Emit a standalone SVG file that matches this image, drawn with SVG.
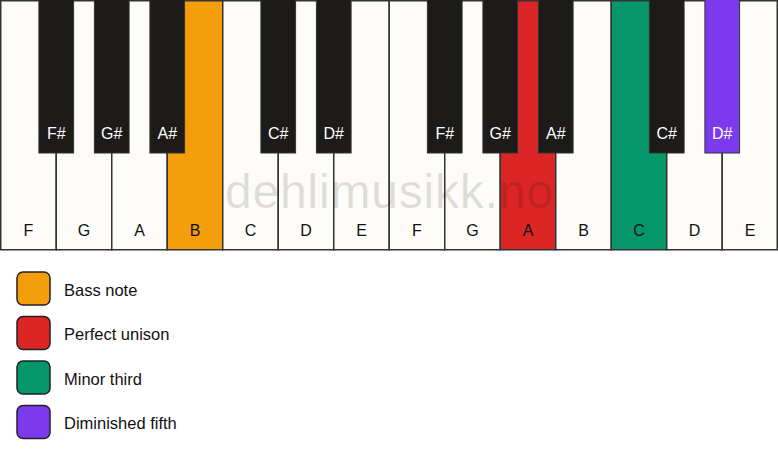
<svg xmlns="http://www.w3.org/2000/svg" width="778" height="461" viewBox="0 0 778 461">
<style>
.w{fill:#fdfcf8;stroke:#333;stroke-width:1.5}
.b{fill:#1c1b1a;stroke:#333;stroke-width:1}
.wl{font-family:"Liberation Sans",Arial,sans-serif;font-size:16px;fill:#111;text-anchor:middle}
.bl{font-family:"Liberation Sans",Arial,sans-serif;font-size:16px;fill:#fff;text-anchor:middle}
.lg{stroke:#222;stroke-width:1.5}
.lt{font-family:"Liberation Sans",Arial,sans-serif;font-size:16.5px;fill:#111}
.wm{font-family:"Liberation Sans",Arial,sans-serif;font-size:48px;fill:#000;fill-opacity:0.12;text-anchor:middle}
</style>
<rect x="0" y="0" width="778" height="461" fill="#ffffff"/>
<g id="white-keys">
<g id="wk-F1"><rect class="w" x="0.75" y="0.75" width="55.5" height="249"/><text class="wl" x="28.5" y="235.5">F</text></g>
<g id="wk-G1"><rect class="w" x="56.25" y="0.75" width="55.5" height="249"/><text class="wl" x="84" y="235.5">G</text></g>
<g id="wk-A1"><rect class="w" x="111.75" y="0.75" width="55.5" height="249"/><text class="wl" x="139.5" y="235.5">A</text></g>
<g id="wk-B1"><rect class="w" x="167.25" y="0.75" width="55.5" height="249" style="fill:#f59e0b"/><text class="wl" x="195" y="235.5">B</text></g>
<g id="wk-C1"><rect class="w" x="222.75" y="0.75" width="55.5" height="249"/><text class="wl" x="250.5" y="235.5">C</text></g>
<g id="wk-D1"><rect class="w" x="278.25" y="0.75" width="55.5" height="249"/><text class="wl" x="306" y="235.5">D</text></g>
<g id="wk-E1"><rect class="w" x="333.75" y="0.75" width="55.5" height="249"/><text class="wl" x="361.5" y="235.5">E</text></g>
<g id="wk-F2"><rect class="w" x="389.25" y="0.75" width="55.5" height="249"/><text class="wl" x="417" y="235.5">F</text></g>
<g id="wk-G2"><rect class="w" x="444.75" y="0.75" width="55.5" height="249"/><text class="wl" x="472.5" y="235.5">G</text></g>
<g id="wk-A2"><rect class="w" x="500.25" y="0.75" width="55.5" height="249" style="fill:#dc2626"/><text class="wl" x="528" y="235.5">A</text></g>
<g id="wk-B2"><rect class="w" x="555.75" y="0.75" width="55.5" height="249"/><text class="wl" x="583.5" y="235.5">B</text></g>
<g id="wk-C2"><rect class="w" x="611.25" y="0.75" width="55.5" height="249" style="fill:#059669"/><text class="wl" x="639" y="235.5">C</text></g>
<g id="wk-D2"><rect class="w" x="666.75" y="0.75" width="55.5" height="249"/><text class="wl" x="694.5" y="235.5">D</text></g>
<g id="wk-E2"><rect class="w" x="722.25" y="0.75" width="55" height="249"/><text class="wl" x="750" y="235.5">E</text></g>
</g>
<g id="black-keys">
<g id="bk-Fs1"><rect class="b" x="38.9" y="-1" width="34.7" height="154"/><text class="bl" x="56.25" y="138.5">F#</text></g>
<g id="bk-Gs1"><rect class="b" x="94.4" y="-1" width="34.7" height="154"/><text class="bl" x="111.75" y="138.5">G#</text></g>
<g id="bk-As1"><rect class="b" x="149.9" y="-1" width="34.7" height="154"/><text class="bl" x="167.25" y="138.5">A#</text></g>
<g id="bk-Cs1"><rect class="b" x="260.9" y="-1" width="34.7" height="154"/><text class="bl" x="278.25" y="138.5">C#</text></g>
<g id="bk-Ds1"><rect class="b" x="316.4" y="-1" width="34.7" height="154"/><text class="bl" x="333.75" y="138.5">D#</text></g>
<g id="bk-Fs2"><rect class="b" x="427.4" y="-1" width="34.7" height="154"/><text class="bl" x="444.75" y="138.5">F#</text></g>
<g id="bk-Gs2"><rect class="b" x="482.9" y="-1" width="34.7" height="154"/><text class="bl" x="500.25" y="138.5">G#</text></g>
<g id="bk-As2"><rect class="b" x="538.4" y="-1" width="34.7" height="154"/><text class="bl" x="555.75" y="138.5">A#</text></g>
<g id="bk-Cs2"><rect class="b" x="649.4" y="-1" width="34.7" height="154"/><text class="bl" x="666.75" y="138.5">C#</text></g>
<g id="bk-Ds2"><rect class="b" x="704.9" y="-1" width="34.7" height="154" style="fill:#7c3aed"/><text class="bl" x="722.25" y="138.5">D#</text></g>
</g>
<text class="wm" x="389" y="208" textLength="328" lengthAdjust="spacing">dehlimusikk.no</text>
<g id="legend">
<g id="lg-bass"><rect class="lg" x="17" y="272" width="33" height="33" rx="6" fill="#f59e0b"/><text class="lt" x="64" y="295.5">Bass note</text></g>
<g id="lg-unison"><rect class="lg" x="17" y="316.5" width="33" height="33" rx="6" fill="#dc2626"/><text class="lt" x="64" y="340">Perfect unison</text></g>
<g id="lg-third"><rect class="lg" x="17" y="361" width="33" height="33" rx="6" fill="#059669"/><text class="lt" x="64" y="384.5">Minor third</text></g>
<g id="lg-fifth"><rect class="lg" x="17" y="405.5" width="33" height="33" rx="6" fill="#7c3aed"/><text class="lt" x="64" y="429">Diminished fifth</text></g>
</g>
<g id="connectors"/>
</svg>
